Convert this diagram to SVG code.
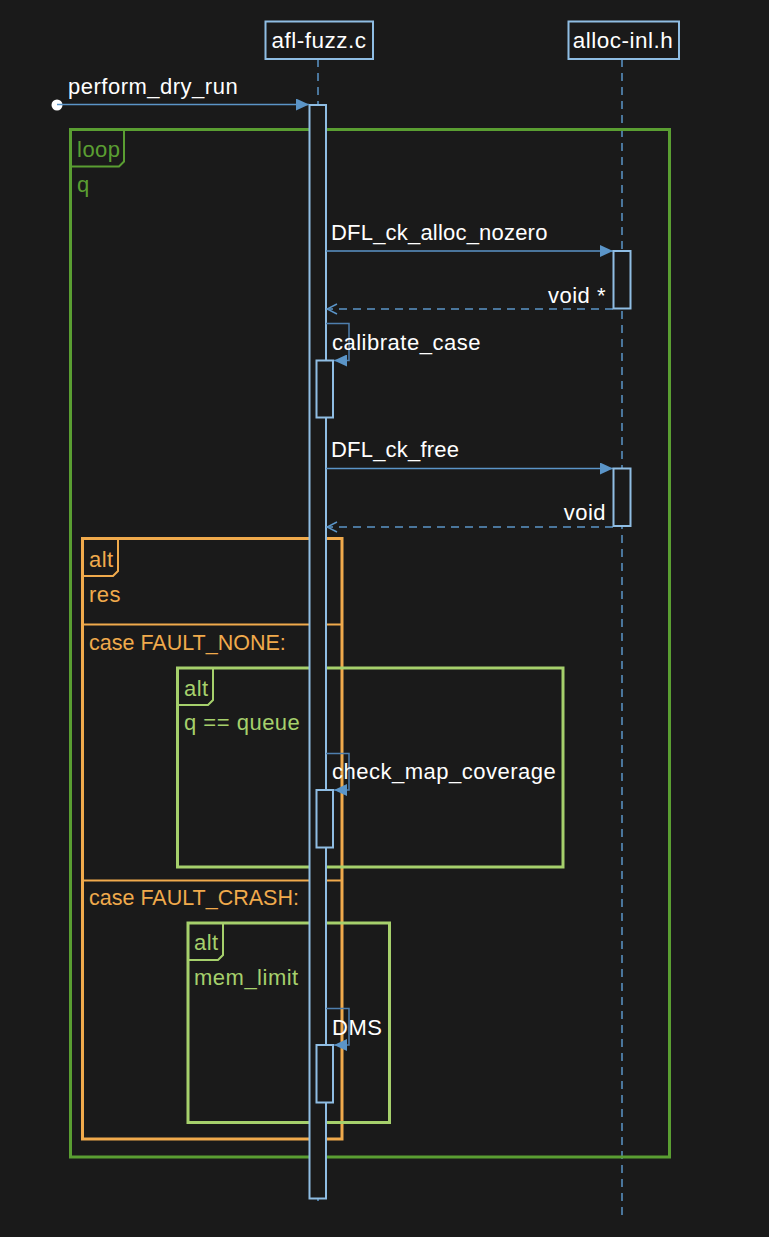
<svg xmlns="http://www.w3.org/2000/svg" width="769" height="1237" viewBox="0 0 769 1237">
<defs>
<style>
text{font-family:"Liberation Sans",Arial,sans-serif;font-size:22px;letter-spacing:0.5px;fill:#ffffff}
.caps{font-size:21.5px;letter-spacing:0}
.tight{letter-spacing:0.2px}
.pbox{fill:#1a1a1a;stroke:#8fbde3;stroke-width:2}
.life{stroke:#5b95c8;stroke-width:1.5;stroke-dasharray:8,6;fill:none}
.act{fill:#1a1a1a;stroke:#8fbde3;stroke-width:2}
.msg{stroke:#5b95c8;stroke-width:1.5;fill:none}
.ret{stroke:#5b95c8;stroke-width:1.5;stroke-dasharray:8,6;fill:none}
.self{stroke:#4f7fae;stroke-width:1.5;fill:none}
.loopf{fill:none;stroke:#5a9e32;stroke-width:3}
.loopt{fill:#5a9e32}
.altf{fill:none;stroke:#f0aa4c;stroke-width:3}
.altt{fill:#f0aa4c}
.alt2f{fill:none;stroke:#a6d06c;stroke-width:3}
.alt2t{fill:#a6d06c}
</style>
<marker id="fill" viewBox="0 0 13 12" refX="13" refY="6" markerWidth="13" markerHeight="12" markerUnits="userSpaceOnUse" orient="auto">
<path d="M0,0 L13,6 L0,12 Z" fill="#5b95c8"/>
</marker>
<marker id="open" viewBox="0 0 12 12" refX="11" refY="6" markerWidth="12" markerHeight="12" markerUnits="userSpaceOnUse" orient="auto">
<path d="M1,1 L11,6 L1,11" fill="none" stroke="#5b95c8" stroke-width="1.5"/>
</marker>
</defs>
<rect width="769" height="1237" fill="#1a1a1a"/>

<g id="lifelines">
<line class="life" x1="318" y1="59" x2="318" y2="1207"/>
<line class="life" x1="622" y1="59" x2="622" y2="1215"/>
</g>

<g id="participant-afl-fuzz">
<rect class="pbox" x="265.5" y="21.5" width="107.5" height="37.5"/>
<text x="319" y="47.5" text-anchor="middle" style="font-size:22.5px">afl-fuzz.c</text>
</g>
<g id="participant-alloc-inl">
<rect class="pbox" x="568.5" y="21.5" width="110.5" height="37.5"/>
<text x="623" y="47.5" text-anchor="middle" style="font-size:22.5px">alloc-inl.h</text>
</g>

<g id="frame-loop">
<rect class="loopf" x="70.5" y="129.5" width="599" height="1027.5"/>
<path d="M70.5,129.5 H124 V161.5 L119,166.5 H70.5 Z" fill="none" stroke="#5a9e32" stroke-width="2"/>
<text class="loopt" x="77" y="157">loop</text>
<text class="loopt" x="77" y="192">q</text>
</g>

<g id="frame-alt-res">
<rect class="altf" x="82.5" y="538.5" width="259.5" height="600.5"/>
<path d="M82.5,538.5 H118 V571 L113,576 H82.5 Z" fill="none" stroke="#f0aa4c" stroke-width="2"/>
<line x1="82.5" y1="624.5" x2="342" y2="624.5" stroke="#f0aa4c" stroke-width="2"/>
<line x1="82.5" y1="880.5" x2="342" y2="880.5" stroke="#f0aa4c" stroke-width="2"/>
<text class="altt" x="89" y="566.5">alt</text>
<text class="altt" x="89" y="601.5">res</text>
<text class="altt caps" x="89" y="650">case FAULT_NONE:</text>
<text class="altt caps" x="89" y="905">case FAULT_CRASH:</text>
</g>

<g id="frame-alt-queue">
<rect class="alt2f" x="177.5" y="668" width="385.5" height="199"/>
<path d="M177.5,668 H213 V700 L208,705 H177.5 Z" fill="none" stroke="#a6d06c" stroke-width="2"/>
<text class="alt2t" x="184" y="696">alt</text>
<text class="alt2t" x="184" y="730">q == queue</text>
</g>

<g id="frame-alt-mem">
<rect class="alt2f" x="188" y="923" width="201.5" height="199.5"/>
<path d="M188,923 H223 V955 L218,960 H188 Z" fill="none" stroke="#a6d06c" stroke-width="2"/>
<text class="alt2t" x="194" y="950">alt</text>
<text class="alt2t" x="194" y="985">mem_limit</text>
</g>

<g id="activation-main">
<rect class="act" x="309.5" y="105" width="16.5" height="1093.5"/>
</g>

<g id="connectors">
<circle cx="57" cy="105" r="5.5" fill="#ffffff"/>
<line class="msg" x1="57" y1="104.5" x2="309" y2="104.5" marker-end="url(#fill)"/>
<line class="msg" x1="326" y1="251" x2="613" y2="251" marker-end="url(#fill)"/>
<line class="ret" x1="613" y1="309" x2="327" y2="309" marker-end="url(#open)"/>
<path class="self" d="M326,323.5 H349 V360.5 H334" marker-end="url(#fill)"/>
<line class="msg" x1="326" y1="468.5" x2="613" y2="468.5" marker-end="url(#fill)"/>
<line class="ret" x1="613" y1="527" x2="327" y2="527" marker-end="url(#open)"/>
<path class="self" d="M326,753.5 H349 V790 H334" marker-end="url(#fill)"/>
<path class="self" d="M326,1008.5 H349 V1045 H334" marker-end="url(#fill)"/>
</g>

<g id="activation-alloc-1"><rect class="act" x="613.5" y="251" width="17" height="57.5"/></g>
<g id="activation-alloc-2"><rect class="act" x="613.5" y="468.5" width="17" height="57.5"/></g>
<g id="activation-calibrate"><rect class="act" x="316.5" y="360.5" width="16.5" height="57"/></g>
<g id="activation-check"><rect class="act" x="316.5" y="790" width="16.5" height="57.5"/></g>
<g id="activation-dms"><rect class="act" x="316.5" y="1045" width="16.5" height="57.5"/></g>

<g id="labels">
<text x="68" y="94">perform_dry_run</text>
<text class="tight" x="331" y="239.5">DFL_ck_alloc_nozero</text>
<text x="606" y="303" text-anchor="end">void *</text>
<text x="332" y="349.5">calibrate_case</text>
<text class="tight" x="331" y="457">DFL_ck_free</text>
<text x="606" y="520" text-anchor="end">void</text>
<text x="332" y="778.5">check_map_coverage</text>
<text x="332" y="1034.5">DMS</text>
</g>
</svg>
